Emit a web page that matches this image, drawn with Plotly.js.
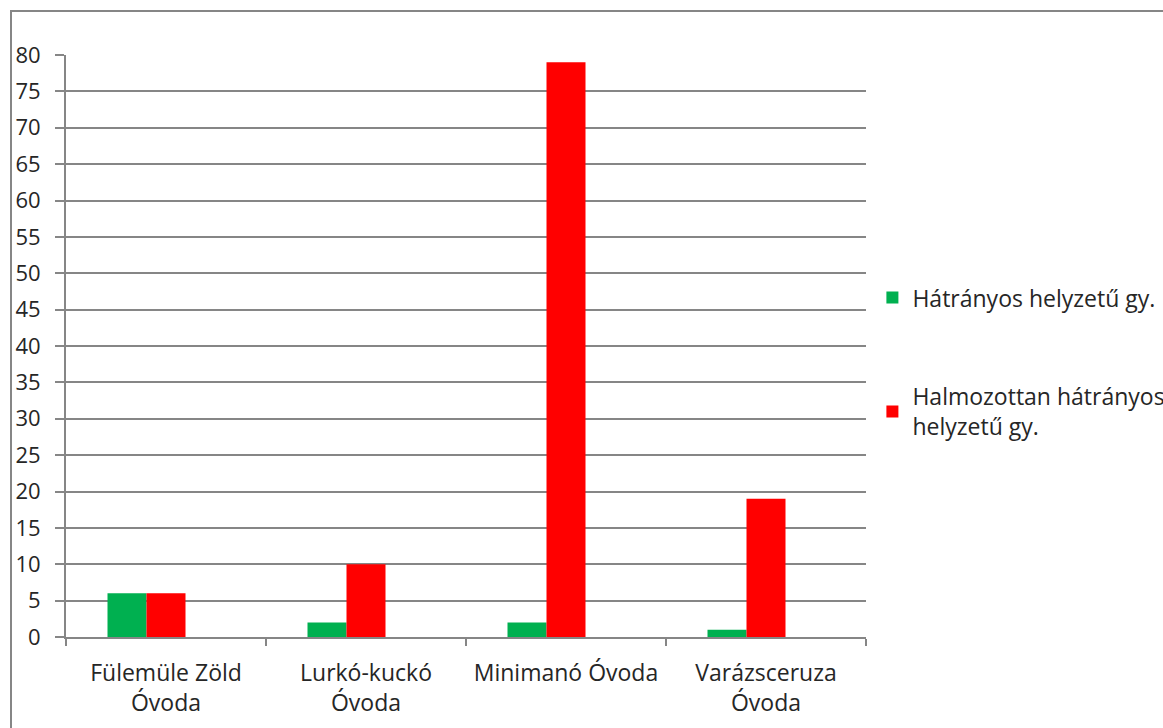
<!DOCTYPE html>
<html>
<head>
<meta charset="utf-8">
<script src="https://cdn.plot.ly/plotly-3.0.1.min.js"></script>
<style>html,body{margin:0;padding:0;background:#fff;overflow:hidden;width:1163px;height:728px}#chart{width:1260px;height:728px}</style>
</head>
<body>
<div id="chart"></div>
<script>
const categories = ["Fülemüle Zöld<br>Óvoda", "Lurkó-kuckó<br>Óvoda", "Minimanó Óvoda", "Varázsceruza<br>Óvoda"];
const hatranyos = [6, 2, 2, 1];
const halmozottan = [6, 10, 79, 19];
const ures = [null, null, null, null];
const seriesNames = ["Hátrányos helyzetű gy.", "Halmozottan hátrányos<br>helyzetű gy."];
const yTicks = [0,5,10,15,20,25,30,35,40,45,50,55,60,65,70,75,80];

const gridColor = "#868686";
const font = {family: "'Open Sans', sans-serif", size: 22, color: "#262626"};
const xfont = {family: "'Open Sans', sans-serif", size: 23, color: "#262626"};

const traces = [
  {type: "bar", x: categories, y: hatranyos, name: seriesNames[0], marker: {color: "#00B050"}, legendgroup: "a"},
  {type: "bar", x: categories, y: halmozottan, name: seriesNames[1], marker: {color: "#FF0000"}, legendgroup: "b"},
  {type: "bar", x: categories, y: ures, name: "", showlegend: false, marker: {color: "#FFFFFF"}, hoverinfo: "skip"}
];

const layout = {
  width: 1260, height: 728,
  margin: {l: 66, r: 394, t: 55, b: 91},
  paper_bgcolor: "#fff", plot_bgcolor: "#fff",
  font: font,
  barmode: "group", bargap: 0.415, bargroupgap: 0,
  showlegend: true,
  legend: {x: 1.008, xanchor: "left", y: 0.62, yanchor: "top", tracegroupgap: 66, font: xfont, bgcolor: "rgba(0,0,0,0)"},
  xaxis: {
    type: "category", tickson: "boundaries", ticks: "outside", ticklen: 7, tickwidth: 2, tickcolor: gridColor,
    showline: true, linecolor: gridColor, linewidth: 2, showgrid: false, tickfont: xfont, ticklabelstandoff: 14, fixedrange: true
  },
  yaxis: {
    range: [0, 80], tickvals: yTicks, ticktext: yTicks.map(String), ticks: "outside", ticklen: 9, tickwidth: 2, tickcolor: gridColor,
    showline: true, linecolor: gridColor, linewidth: 2, showgrid: true, gridcolor: gridColor, gridwidth: 2,
    zeroline: false, tickfont: font, ticklabelstandoff: 10, fixedrange: true
  },
  shapes: [{type: "rect", xref: "paper", yref: "paper", x0: -0.06875, x1: 1.5, y0: -0.2, y1: 1.0756, line: {color: gridColor, width: 2}, layer: "below"}]
};

Plotly.newPlot("chart", traces, layout, {displayModeBar: false, staticPlot: true});
</script>
</body>
</html>
